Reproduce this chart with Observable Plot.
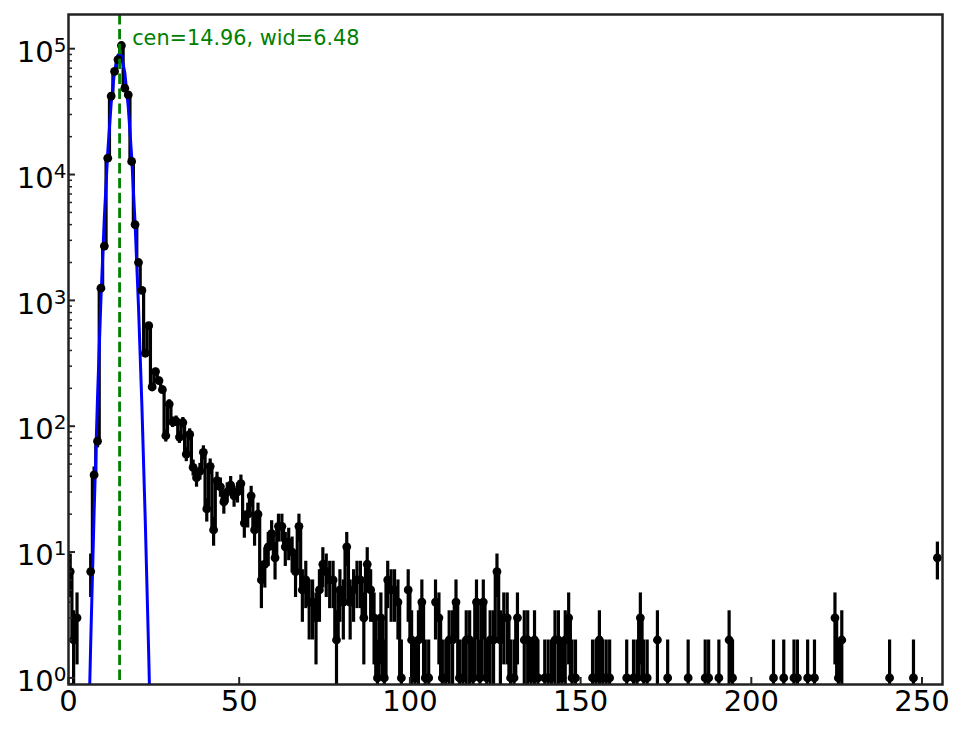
<!DOCTYPE html>
<html>
<head>
<meta charset="utf-8">
<script src="https://cdn.jsdelivr.net/npm/d3@7"></script>
<script src="https://cdn.jsdelivr.net/npm/@observablehq/plot@0.6"></script>
<style>
  html, body { margin: 0; padding: 0; background: white; }
</style>
</head>
<body>
<div id="chart"></div>
<script>
// Histogram counts per bin (bins of width 1 starting at 0)
const counts = [
  7, 2, 3, 0, 0, 0, 7, 41, 76, 1250,
  2700, 13500, 42000, 66000, 82000, 106000, 48500, 43000, 12700, 4000,
  2000, 1200, 380, 630, 205, 272, 230, 195, 84, 150,
  108, 110, 82, 107, 60, 86, 47, 39, 44, 62,
  22, 48, 15, 37, 33, 25, 30, 34, 28, 30,
  35, 17, 20, 28, 15, 20, 6, 8, 11, 14,
  9, 16, 16, 11, 12, 10, 7, 16, 5, 6,
  4, 4, 3, 5, 8, 7, 6, 6, 2, 5,
  4, 11, 4, 5, 6, 6, 3, 8, 5, 3,
  1, 3, 1, 6, 5, 5, 4, 1, 0, 5,
  2, 1, 2, 4, 1, 1, 0, 4, 3, 1,
  1, 2, 2, 4, 1, 1, 2, 2, 1, 4,
  1, 4, 1, 2, 2, 7, 2, 3, 3, 1,
  1, 3, 0, 2, 2, 1, 2, 1, 0, 1,
  1, 1, 2, 2, 1, 2, 3, 1, 1, 0,
  0, 0, 0, 1, 1, 2, 1, 1, 1, 0,
  0, 0, 0, 1, 0, 1, 1, 3, 1, 1,
  0, 0, 2, 0, 0, 1, 0, 0, 0, 0,
  0, 1, 0, 0, 0, 0, 1, 1, 0, 0,
  1, 0, 0, 2, 1, 0, 0, 0, 0, 0,
  0, 0, 0, 0, 0, 0, 1, 0, 0, 1,
  0, 0, 1, 1, 0, 0, 1, 0, 1, 0,
  0, 0, 0, 0, 3, 1, 2, 0, 0, 0,
  0, 0, 0, 0, 0, 0, 0, 0, 0, 0,
  1, 0, 0, 0, 0, 0, 0, 1, 0, 0,
  0, 0, 0, 0, 9
];
const binStart = 0;
const binWidth = 1;

const fitX = [5.5, 6.5, 7.5, 8.5, 9.5, 10.5, 11.5, 12.5, 13.5, 14.5,
              15.5, 16.5, 17.5, 18.5, 19.5, 20.5, 21.5, 22.5, 23.5, 24.5];
const fitY = [0.124, 1.87, 20.7, 169, 1022, 4575, 15100, 36900, 66700, 89100,
              88000, 64300, 34700, 13900, 4100, 895, 145, 17.2, 1.52, 0.099];

const cen = 14.96;
const wid = 6.48;
const annotation = [`cen=${cen.toFixed(2)}, wid=${wid.toFixed(2)}`];

const xTicks = [0, 50, 100, 150, 200, 250];
const yMajor = [1, 10, 100, 1000, 10000, 100000];
const yMinor = [0.9,
  2, 3, 4, 5, 6, 7, 8, 9,
  20, 30, 40, 50, 60, 70, 80, 90,
  200, 300, 400, 500, 600, 700, 800, 900,
  2000, 3000, 4000, 5000, 6000, 7000, 8000, 9000,
  20000, 30000, 40000, 50000, 60000, 70000, 80000, 90000];

// Build tables
const pts = counts.map((n, i) => ({
  x: binStart + (i + 0.5) * binWidth,
  n,
  yl: n > 0 ? n : NaN,
  lo: n > 0 ? Math.max(n - Math.sqrt(n), 0.3) : NaN,
  hi: n > 0 ? n + Math.sqrt(n) : NaN
}));
const pos = pts.filter(d => d.n > 0);
const fit = fitX.map((x, i) => ({x, y: fitY[i]}));

const W = 964, H = 729;
const mL = 68, mR = 22, mT = 14, mB = 45;
const fw = W - mL - mR, fh = H - mT - mB;

const svg = Plot.plot({
  width: W,
  height: H,
  marginLeft: mL,
  marginRight: mR,
  marginTop: mT,
  marginBottom: mB,
  style: {fontFamily: "DejaVu Sans", fontSize: "29px", background: "white", color: "black", overflow: "visible"},
  x: {domain: [0, 256], label: null},
  y: {type: "log", domain: [0.886, 1.87e5], label: null},
  marks: [
    Plot.ruleX(pos, {x: "x", y1: "lo", y2: "hi", stroke: "black", strokeWidth: 3.2, clip: true}),
    Plot.line(pts, {x: "x", y: "yl", curve: "step", stroke: "black", strokeWidth: 3.2, clip: true}),
    Plot.line(fit, {x: "x", y: "y", stroke: "#0000ff", strokeWidth: 3, clip: true}),
    Plot.dot(pos, {x: "x", y: "n", r: 4.4, fill: "black", stroke: "none", clip: true}),
    Plot.ruleX([cen], {x: d => d, stroke: "#008000", strokeWidth: 2.8, strokeDasharray: "10.4,4.5"}),
    Plot.text(annotation, {x: cen, frameAnchor: "top", text: d => d, textAnchor: "start", lineAnchor: "bottom",
      dx: 12.6, dy: 30, fill: "#008000", fontSize: 20.8}),
    Plot.tickX(xTicks, {x: d => d, insetTop: fh - 7, stroke: "#222", strokeWidth: 2}),
    Plot.tickY(yMajor, {y: d => d, insetRight: fw - 7, stroke: "#222", strokeWidth: 2}),
    Plot.tickY(yMinor, {y: d => d, insetRight: fw - 4, stroke: "#222", strokeWidth: 1.5}),
    Plot.axisX(xTicks, {tickSize: 0, tickPadding: 6, label: null}),
    Plot.axisY(yMajor, {tickSize: 0, tickPadding: 2, dy: 4, label: null,
      tickFormat: d => `10^${Math.round(Math.log10(d))}`}),
    Plot.frame({stroke: "#222", strokeWidth: 2.5})
  ]
});

d3.select(svg).selectAll('g[aria-label="y-axis tick label"] text').each(function () {
  const s = this.textContent;
  const parts = s.split("^");
  if (parts.length === 2) {
    const t = d3.select(this);
    t.text(null);
    t.append("tspan").text(parts[0]);
    t.append("tspan").attr("dy", "-10").attr("font-size", "20px").text(parts[1]);
  }
});

document.getElementById("chart").appendChild(svg);
</script>
</body>
</html>
